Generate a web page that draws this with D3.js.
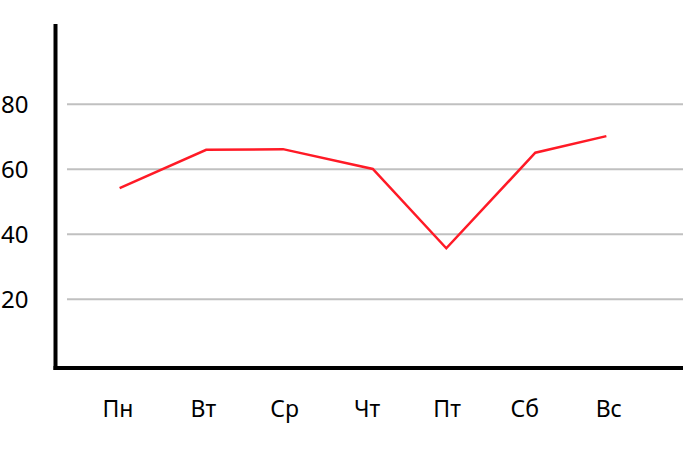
<!DOCTYPE html>
<html><head><meta charset="utf-8">
<script src="https://cdn.jsdelivr.net/npm/d3@7/dist/d3.min.js"></script>
<style>html,body{margin:0;padding:0;background:#fff;}svg{display:block;}</style>
</head><body>
<svg id="chart" width="689" height="470"></svg>
<script>
const days = ["Пн","Вт","Ср","Чт","Пт","Сб","Вс"];
const labelPos = [0, 1.046, 2.04, 3.05, 4.03, 4.98, 6.01];
const pointPos = [0.02, 1.08, 2.02, 3.12, 4.02, 5.11, 5.98];
const values = [54.2, 66.0, 66.2, 60.1, 35.7, 65.1, 70.2];
const yTicks = [20, 40, 60, 80];

const svg = d3.select("#chart");
const x = d3.scaleLinear().domain([0, 6]).range([118, 608]);
const y = d3.scaleLinear().domain([0, 100]).range([364.3, 39.3]);
const font = "'Noto Sans', sans-serif";

// gridlines
svg.append("g").selectAll("line").data(yTicks).join("line")
  .attr("x1", 67).attr("x2", 683)
  .attr("y1", d => y(d)).attr("y2", d => y(d))
  .attr("stroke", "#c0c0c0").attr("stroke-width", 2);

// y labels
svg.append("g").selectAll("text").data(yTicks).join("text")
  .attr("x", 28.5).attr("y", d => y(d)).attr("dy", "0.35em")
  .attr("text-anchor", "end")
  .attr("font-family", font).attr("font-size", 24).attr("fill", "#000")
  .text(d => d);

// x labels
svg.append("g").selectAll("text").data(days).join("text")
  .attr("x", (d, i) => x(labelPos[i])).attr("y", 417)
  .attr("text-anchor", "middle")
  .attr("font-family", font).attr("font-size", 23).attr("fill", "#000")
  .text(d => d);

// axes lines
svg.append("line").attr("x1", 55.5).attr("x2", 55.5).attr("y1", 24).attr("y2", 370)
  .attr("stroke", "#000").attr("stroke-width", 4);
svg.append("line").attr("x1", 53.5).attr("x2", 683).attr("y1", 368).attr("y2", 368)
  .attr("stroke", "#000").attr("stroke-width", 4);

// line
const line = d3.line().x((d, i) => x(pointPos[i])).y(d => y(d));
svg.append("path").datum(values)
  .attr("d", line).attr("fill", "none")
  .attr("stroke", "#ff1a26").attr("stroke-width", 2.5)
  .attr("stroke-linejoin", "miter");
</script>
</body></html>
